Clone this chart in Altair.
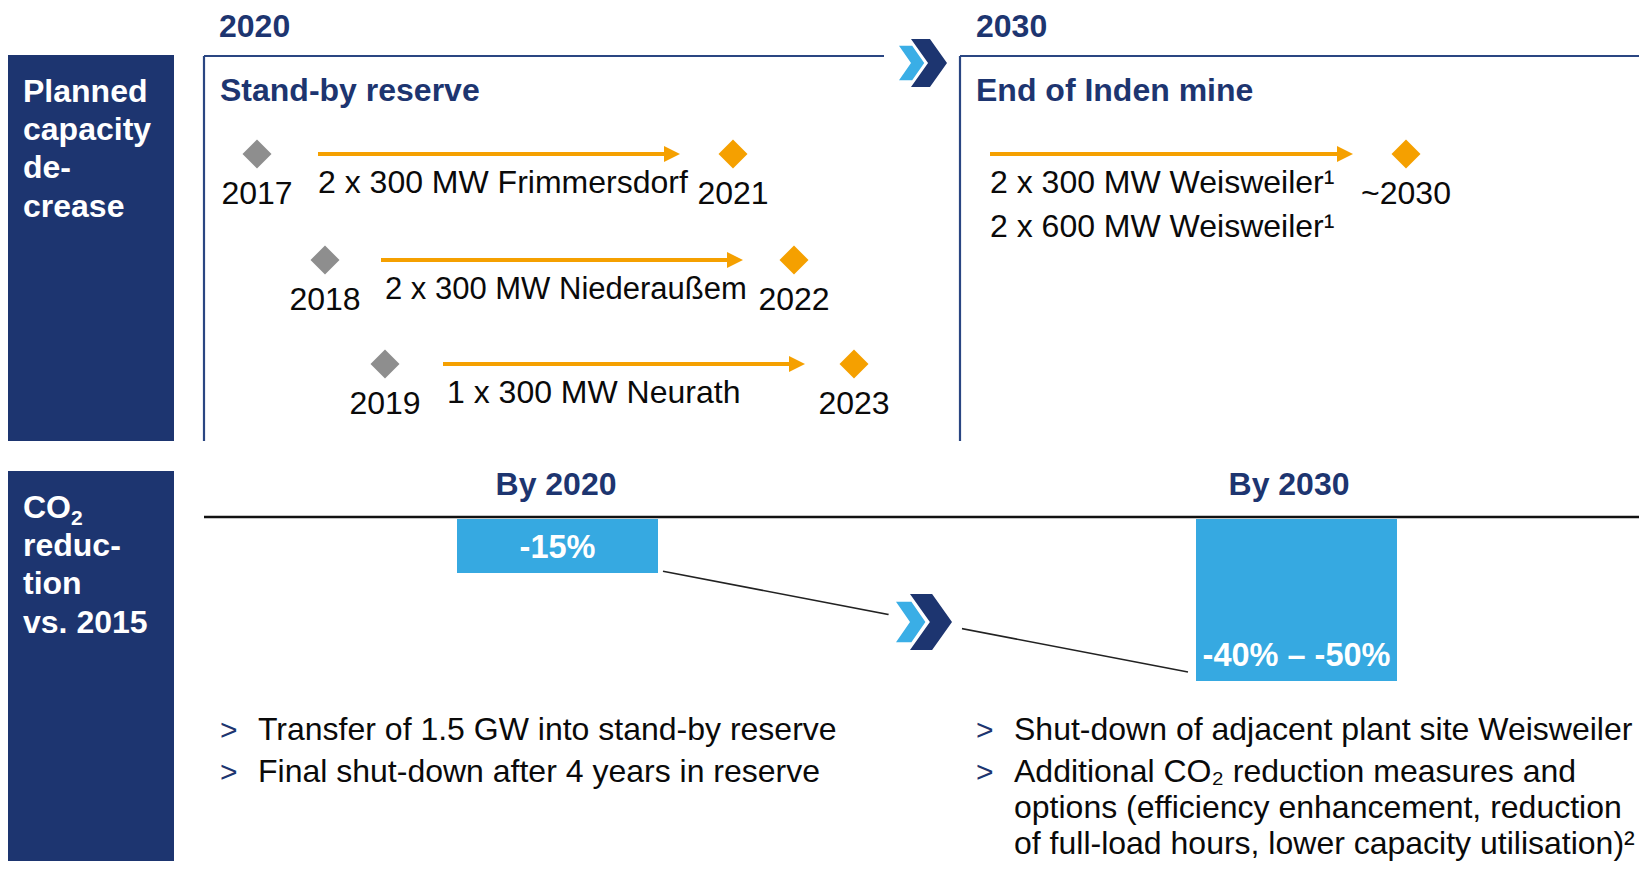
import altair as alt
import pandas as pd

# ------------------------------------------------------------------ content
section_years = ["2020", "2030"]
panel_titles = ["Stand-by reserve", "End of Inden mine"]
side_label_capacity = ["Planned", "capacity", "de-", "crease"]
side_label_co2 = ["CO₂", "reduc-", "tion", "vs. 2015"]

reserve_units = ["2 x 300 MW Frimmersdorf", "2 x 300 MW Niederaußem", "1 x 300 MW Neurath"]
reserve_start = ["2017", "2018", "2019"]
reserve_end = ["2021", "2022", "2023"]

closure_units = ["2 x 300 MW Weisweiler¹", "2 x 600 MW Weisweiler¹"]
closure_end = ["~2030"]

co2_periods = ["By 2020", "By 2030"]
co2_reduction = [-15, -45]          # % vs. 2015 (2030: range -40% to -50%)
co2_labels = ["-15%", "-40% – -50%"]

bullets_2020 = ["Transfer of 1.5 GW into stand-by reserve",
                "Final shut-down after 4 years in reserve"]
bullets_2030 = ["Shut-down of adjacent plant site Weisweiler",
                "Additional CO₂ reduction measures and",
                "options (efficiency enhancement, reduction",
                "of full-load hours, lower capacity utilisation)²"]
bullets_2030_marker = [True, True, False, False]

# ------------------------------------------------------------------ styling / layout
FONT = "Liberation Sans, Arial, Helvetica, sans-serif"
NAVY = "#1D3570"
LINE_NAVY = "#2A4682"
BLUE = "#36A9E1"
LIGHT_CHEV = "#3AAEE6"
ORANGE = "#F5A000"
GREY = "#8E8E8E"
TXT = "#0A0A0A"

W, H = 1631, 853
REF_X = (8, 8 + W)
REF_Y = (8, 8 + H)

# timeline rows (left panel)
row_y = [154, 260, 364]
start_x = [257, 325, 385]
arrow_x0 = [318, 381, 443]
arrow_tip = [680, 743, 805]
end_x = [733, 794, 854]
unit_x = [318, 385, 447]
unit_size = [32, 31, 32]
# right panel
r_row_y = 154
r_arrow = (990, 1353)
r_end_x = 1406
r_unit_y = [193, 237]

# CO2 bars
bar_x0 = [457, 1196]
bar_x1 = [658, 1397]
bar_base_ref = 519      # pixel row of 0 %
px_per_pct = 3.6
header_x = [556, 1289]

# subscript placement in the side box
box_sub_x = 71

# bullet rows
left_y = [740, 782]
right_y = [740, 782, 818, 854]


def sx():
    return alt.Scale(domain=list(REF_X), nice=False, zero=False)


def sy():
    return alt.Scale(domain=[REF_Y[1], REF_Y[0]], nice=False, zero=False)


def X(f):
    return alt.X(f"{f}:Q", scale=sx(), axis=None)


def Y(f):
    return alt.Y(f"{f}:Q", scale=sy(), axis=None)


# percentage scale for the bar layers, consistent with the pixel layout
pct_hi = (bar_base_ref - REF_Y[0]) / px_per_pct
pct_lo = (bar_base_ref - REF_Y[1]) / px_per_pct


def YP(f):
    return alt.Y(f"{f}:Q", scale=alt.Scale(domain=[pct_lo, pct_hi], nice=False, zero=False), axis=None)


def text_layer(xs, ys, texts, size=32, weight="normal", color=TXT, align="left", dy=0):
    sizes = size if isinstance(size, list) else [size] * len(texts)
    df = pd.DataFrame({"x": xs, "y": ys, "t": texts, "fs": sizes})
    return alt.Chart(df).mark_text(
        align=align, baseline="alphabetic", font=FONT,
        fontWeight=weight, color=color, dy=dy
    ).encode(x=X("x"), y=Y("y"), text="t:N", size=alt.Size("fs:Q", scale=None, legend=None))


def symbol_layer(xs, ys, shape, size, color):
    df = pd.DataFrame({"x": xs, "y": ys})
    return alt.Chart(df).mark_point(
        shape=shape, size=size, filled=True, color=color, opacity=1, strokeWidth=0
    ).encode(x=X("x"), y=Y("y"))


def rule_layer(x0, x1, y0, y1, color, width):
    df = pd.DataFrame({"x": x0, "x2": x1, "y": y0, "y2": y1})
    return alt.Chart(df).mark_rule(color=color, strokeWidth=width).encode(
        x=X("x"), x2="x2", y=Y("y"), y2="y2")


layers = []

# side boxes
boxes = pd.DataFrame({"x": [7, 7], "x2": [174, 174], "y": [55, 471], "y2": [441, 869]})
layers.append(alt.Chart(boxes).mark_rect(color=NAVY).encode(x=X("x"), x2="x2", y=Y("y"), y2="y2"))

# panel frames
layers.append(rule_layer([204, 204, 960, 960], [204, 884, 960, 1642],
                         [56, 56, 56, 56], [441, 56, 441, 56], LINE_NAVY, 2.2))

# side labels
layers.append(text_layer([23] * 4, [102, 140, 178, 217], side_label_capacity,
                         size=32, weight="bold", color="white"))
co2_pre = side_label_co2[0].split("₂")[0]
layers.append(text_layer([23] * 4, [518, 556, 594, 633], [co2_pre] + side_label_co2[1:],
                         size=32, weight="bold", color="white"))
layers.append(text_layer([box_sub_x], [525], ["2"], size=21, weight="bold", color="white"))

# section years and panel titles
layers.append(text_layer([219, 976], [37, 37], section_years, size=32, weight="bold", color=NAVY))
layers.append(text_layer([220, 976], [101, 101], panel_titles, size=32, weight="bold", color=NAVY))

# top chevron
CHEV_DARK = "M-0.75,-1L0.04,-1L0.75,0L0.04,1L-0.75,1L-0.04,0Z"
CHEV_LIGHT = "M-1.25,-0.72L-0.7,-0.72L-0.2,0L-0.7,0.72L-1.25,0.72L-0.75,0Z"
layers.append(symbol_layer([929], [63], CHEV_LIGHT, 48 ** 2, LIGHT_CHEV))
layers.append(symbol_layer([929], [63], CHEV_DARK, 48 ** 2, NAVY))

# timeline arrows (left panel + right panel)
ARROW_HEAD = "M-1,-1L1,0L-1,1Z"
all_x0 = arrow_x0 + [r_arrow[0]]
all_tip = arrow_tip + [r_arrow[1]]
all_y = row_y + [r_row_y]
layers.append(rule_layer(all_x0, [t - 12 for t in all_tip], all_y, all_y, ORANGE, 4))
layers.append(symbol_layer([t - 8 for t in all_tip], all_y, ARROW_HEAD, 16 ** 2, ORANGE))

# diamonds
layers.append(symbol_layer(start_x, row_y, "diamond", 29 ** 2, GREY))
layers.append(symbol_layer(end_x + [r_end_x], row_y + [r_row_y], "diamond", 29 ** 2, ORANGE))

# years under diamonds
layers.append(text_layer(start_x + end_x + [r_end_x],
                         [y + 50 for y in row_y] * 2 + [r_row_y + 50],
                         reserve_start + reserve_end + closure_end, size=32, align="center"))

# unit descriptions
layers.append(text_layer(unit_x, [y + 39 for y in row_y], reserve_units, size=unit_size))
layers.append(text_layer([r_arrow[0]] * 2, r_unit_y, closure_units, size=32))

# CO2 section headers
layers.append(text_layer(header_x, [495, 495], co2_periods, size=32, weight="bold", color=NAVY,
                         align="center"))

bar_df = pd.DataFrame({"x0": bar_x0, "x1": bar_x1, "pct": co2_reduction, "zero": [0, 0],
                       "xc": [(a + b) / 2 for a, b in zip(bar_x0, bar_x1)], "label": co2_labels})

# connector line (drawn under the chevron)
conn = pd.DataFrame({"x": [663], "x2": [1188], "p": [-14.5], "p2": [-42.5]})
layers.append(alt.Chart(conn).mark_rule(color="#222222", strokeWidth=1.6).encode(
    x=X("x"), x2="x2", y=YP("p"), y2="p2"))

layers.append(alt.Chart(bar_df).mark_rect(color=BLUE).encode(
    x=X("x0"), x2="x1", y=YP("pct"), y2="zero"))
layers.append(alt.Chart(bar_df).mark_text(
    align="center", baseline="alphabetic", font=FONT, fontSize=32.5, fontWeight="bold",
    color="white", dy=-15).encode(x=X("xc"), y=YP("pct"), text="label:N"))

layers.append(rule_layer([204], [1642], [517], [517], "#111111", 2.5))

# bottom chevron with white halo
layers.append(symbol_layer([925], [623], "circle", 75 ** 2, "white"))
layers.append(symbol_layer([931], [622], CHEV_LIGHT, 56 ** 2, LIGHT_CHEV))
layers.append(symbol_layer([931], [622], CHEV_DARK, 56 ** 2, NAVY))

# bullets
layers.append(text_layer([220] * 2 + [976] * sum(bullets_2030_marker),
                         left_y + [y for y, m in zip(right_y, bullets_2030_marker) if m],
                         [">"] * (2 + sum(bullets_2030_marker)), size=30, color=NAVY))
layers.append(text_layer([258] * 2, left_y, bullets_2020, size=32))
layers.append(text_layer([1014] * 4, right_y, bullets_2030, size=32))

chart = alt.layer(*layers).resolve_scale(y="independent").properties(
    width=W, height=H, padding=0, autosize=alt.AutoSizeParams(type="none"),
    background="white"
).configure_view(stroke=None)

chart.save("out.html", embed_options={"renderer": "svg", "actions": False})
